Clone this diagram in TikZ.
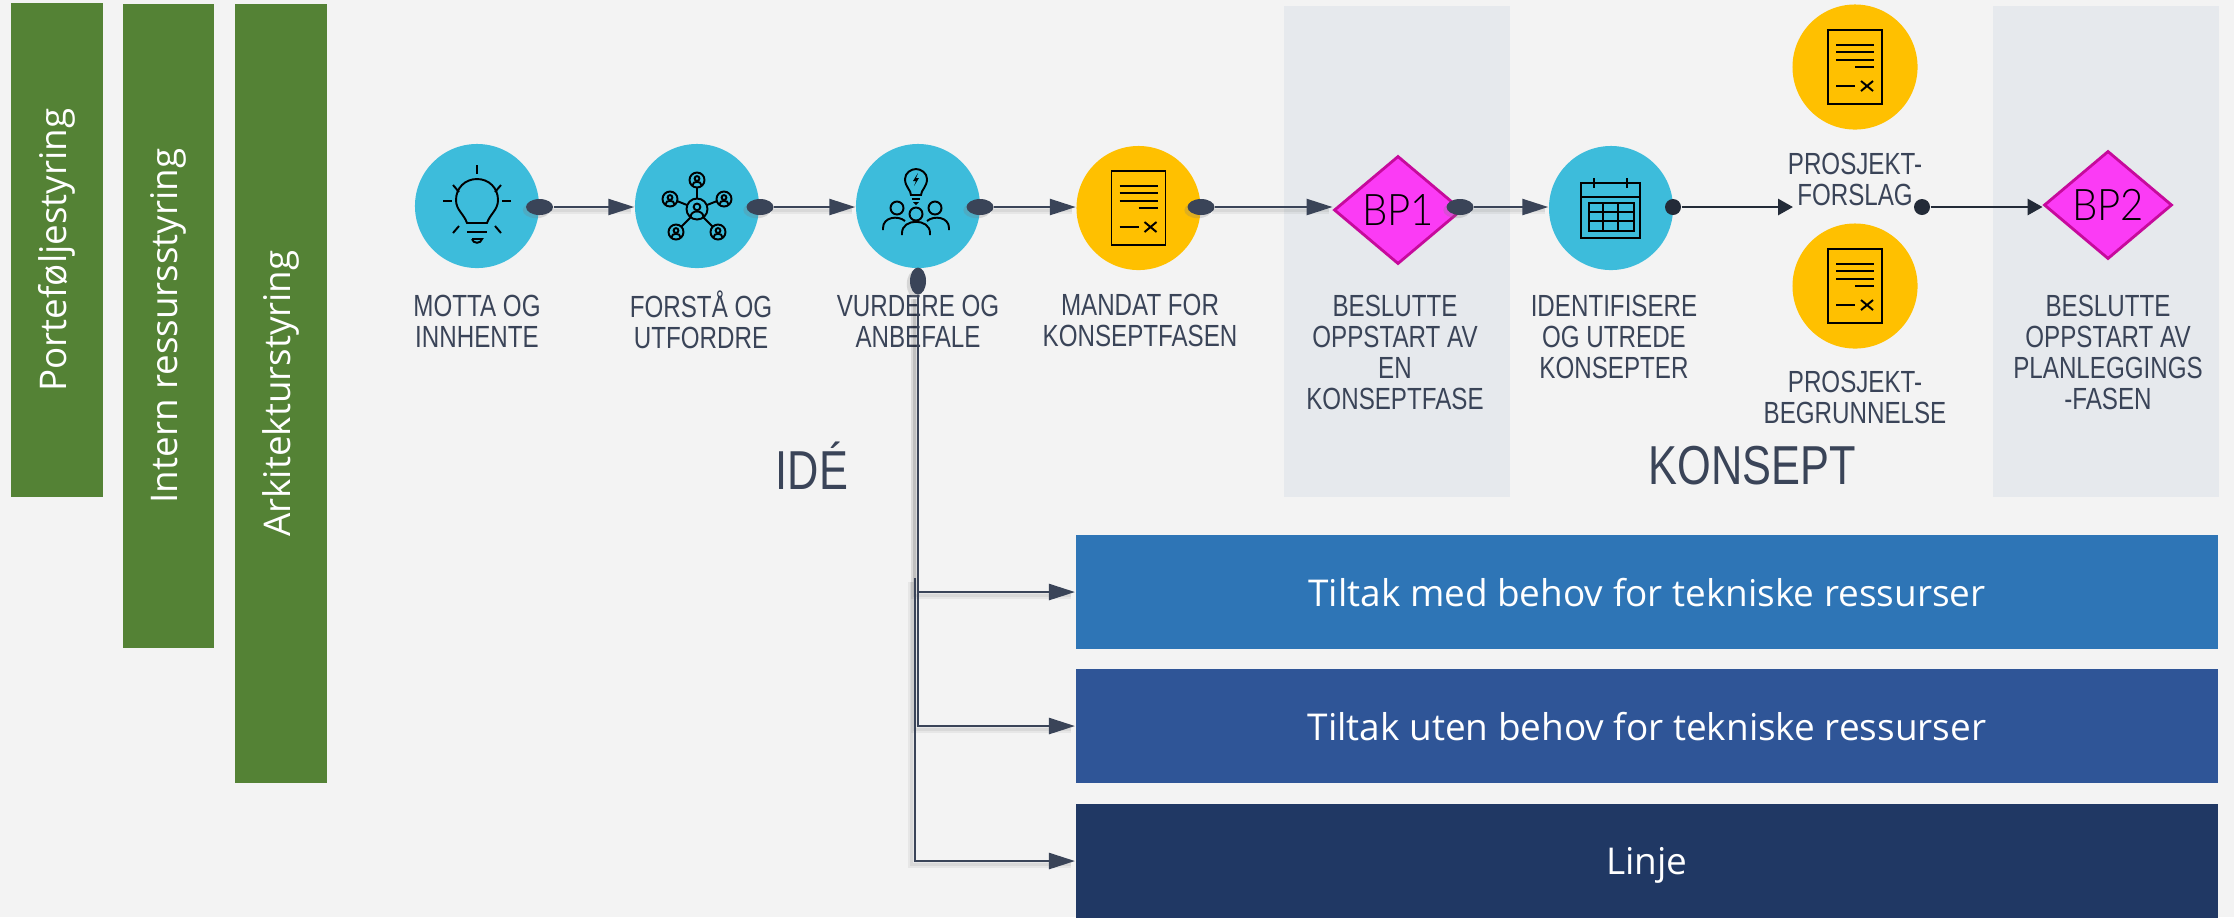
\documentclass[tikz,border=0pt]{standalone}
\usepackage{fontspec}
\usetikzlibrary{arrows.meta,shapes.geometric,shadows}

\newfontfamily\labelfont[FakeStretch=0.79]{Liberation Sans}
\newfontfamily\bpfont[FakeStretch=0.92]{Lato Light}
\newfontfamily\boxfont{Open Sans}

\definecolor{bakgrunn}{HTML}{F3F3F3}
\definecolor{stolpe}{HTML}{548235}
\definecolor{turkis}{HTML}{3DBCDB}
\definecolor{oransje}{HTML}{FFC000}
\definecolor{magenta}{HTML}{FB3BF5}
\definecolor{magentakant}{HTML}{C60A9C}
\definecolor{felt}{HTML}{E6E9ED}
\definecolor{tekniske}{HTML}{2E75B6}
\definecolor{utenbehov}{HTML}{2F5597}
\definecolor{linjeblaa}{HTML}{203864}
\definecolor{pil}{HTML}{3A4458}
\definecolor{pilmork}{HTML}{232B38}

\tikzset{
    stolpebox/.style={fill=stolpe, draw=none, inner sep=0pt, minimum height=0.91cm, text=white, rotate=90, font=\boxfont\fontsize{10.45}{12}\selectfont},
    feltbox/.style={fill=felt, draw=none, inner sep=0pt, minimum height=4.91cm},
    tiltakbox/.style={draw=none, inner sep=0pt, text depth=0pt, minimum width=11.42cm, minimum height=1.14cm, text=white, font=\boxfont\fontsize{10.5}{12}\selectfont},
    fasecircle/.style={circle, draw=none, inner sep=0pt, minimum size=1.24cm},
    bpdiamond/.style={diamond, fill=magenta, draw=magentakant, line width=0.8pt, inner sep=0pt, minimum width=1.28cm, minimum height=1.08cm, font=\bpfont\fontsize{12.4}{12}\selectfont},
    fasetekst/.style={inner sep=0pt, align=center, text=pil, font=\labelfont\fontsize{8.7}{8.82}\selectfont},
    stortekst/.style={inner sep=0pt, text=pil, font=\labelfont\fontsize{15.6}{16}\selectfont},
    prikk/.style={ellipse, fill=pil, draw=none, inner sep=0pt, minimum width=0.27cm, minimum height=0.16cm, drop shadow={shadow xshift=-0.9pt, shadow yshift=-0.9pt, opacity=0.25}},
    prikkliten/.style={circle, fill=pilmork, draw=none, inner sep=0pt, minimum size=0.16cm},
    pilstor/.style={draw=pil, line width=0.7pt, -{Triangle[length=0.26cm,width=0.16cm]}, preaction={draw=black, opacity=0.05, line width=2.2pt, -, transform canvas={shift={(-1pt,-1pt)}}}, preaction={draw=black, opacity=0.06, line width=1pt, -, transform canvas={shift={(-1pt,-1pt)}}}},
    pilliten/.style={draw=pilmork, line width=0.8pt, -{Triangle[length=0.15cm,width=0.16cm]}},
    ikon/.style={draw=black, line width=0.55pt},
    docicon/.pic={
        \draw[ikon] (-27,-37) rectangle (27,37);
        \draw[ikon] (-19,-22) -- (19,-22);
        \draw[ikon] (-19,-15) -- (19,-15);
        \draw[ikon] (-19,-7) -- (19,-7);
        \draw[ikon] (0,0) -- (19,0);
        \draw[ikon] (-19,19) -- (0,19);
        \draw[ikon] (6,14) -- (18,24);
        \draw[ikon] (6,24) -- (18,14);
    },
    bulbicon/.pic={
        \draw[ikon] (-10,17) .. controls (-13,8) and (-21,4) .. (-21,-6) .. controls (-21,-18) and (-12,-27) .. (0,-27) .. controls (12,-27) and (21,-18) .. (21,-6) .. controls (21,4) and (13,8) .. (10,17) -- cycle;
        \draw[ikon] (-10,26) -- (10,26);
        \draw[ikon] (-5,33) -- (5,33) .. controls (4,38) and (-4,38) .. (-5,33);
        \draw[ikon] (0,-41) -- (0,-32);
        \draw[ikon] (-34,-5) -- (-25,-5);
        \draw[ikon] (34,-5) -- (25,-5);
        \draw[ikon] (-24,-21) -- (-18,-14);
        \draw[ikon] (24,-21) -- (18,-14);
        \draw[ikon] (-24,27) -- (-18,20);
        \draw[ikon] (24,27) -- (18,20);
    },
    netperson/.pic={
        \draw[ikon] (0,0) circle (7.5);
        \draw[ikon] (0,-1.5) circle (2.4);
        \draw[ikon] (-4.5,5.5) .. controls (-4.5,0.5) and (4.5,0.5) .. (4.5,5.5);
    },
    neticon/.pic={
        \draw[ikon] (0,-7) -- (0,-18);
        \draw[ikon] (-10,-1) -- (-20,-5);
        \draw[ikon] (10,-1) -- (20,-5);
        \draw[ikon] (-6,11) -- (-16,21);
        \draw[ikon] (6,11) -- (16,21);
        \pic[scale=1.4] at (0,3) {netperson};
        \pic at (0,-26) {netperson};
        \pic at (-27,-7) {netperson};
        \pic at (27,-7) {netperson};
        \pic at (-21,26) {netperson};
        \pic at (21,26) {netperson};
    },
    peopleicon/.pic={
        \draw[ikon] (-7,-11) .. controls (-7,-16) and (-13,-19) .. (-13,-27) .. controls (-13,-33) and (-7,-37) .. (-2,-37) .. controls (3,-37) and (9,-33) .. (9,-27) .. controls (9,-19) and (3,-16) .. (3,-11) -- cycle;
        \draw[ikon] (-6,-7) -- (2,-7);
        \fill[black] (-5,-4) -- (1,-4) -- (-2,-1) -- cycle;
        \fill[black] (0,-33) -- (-5,-25) -- (-2,-25) -- (-4,-20) -- (1,-28) -- (-2,-28) -- cycle;
        \draw[ikon] (-2,8) circle (6.5);
        \draw[ikon] (-21,2) circle (6.5);
        \draw[ikon] (17,2) circle (6.5);
        \draw[ikon] (-16,29) -- (-16,27) .. controls (-16,12) and (12,12) .. (12,27) -- (12,29);
        \draw[ikon] (-35,24) -- (-35,22) .. controls (-35,11) and (-20,9) .. (-13,15);
        \draw[ikon] (31,24) -- (31,22) .. controls (31,11) and (16,9) .. (9,15);
    },
    calendaricon/.pic={
        \draw[ikon, line width=0.7pt] (-30,-25) rectangle (29,30);
        \draw[ikon, line width=0.7pt] (-30,-11) -- (29,-11);
        \draw[ikon] (-17,-30) -- (-17,-20);
        \draw[ikon] (16,-30) -- (16,-20);
        \draw[ikon, line width=0.7pt] (-22,-5) rectangle (23,23);
        \draw[ikon] (-8,-5) -- (-8,23);
        \draw[ikon] (7,-5) -- (7,23);
        \draw[ikon] (-22,4) -- (23,4);
        \draw[ikon] (-22,13) -- (23,13);
    }
}

\begin{document}
\begin{tikzpicture}[x=0.01cm, y=-0.01cm]
            \fill[bakgrunn] (0,0) rectangle (2234,917);
            \useasboundingbox (0,0) rectangle (2234,917);

            \node[stolpebox, minimum width=4.94cm] (portefolje) at (57,250) {Porteføljestyring};
            \node[stolpebox, minimum width=6.44cm] (intern) at (168.5,326) {Intern ressursstyring};
            \node[stolpebox, minimum width=7.79cm] (arkitektur) at (281,393.5) {Arkitekturstyring};

            \node[feltbox, minimum width=2.26cm] (felt1) at (1397,251.5) {};
            \node[feltbox, minimum width=2.26cm] (felt2) at (2106,251.5) {};

            \node[tiltakbox, fill=tekniske] (tiltak1) at (1647,592) {Tiltak med behov for tekniske ressurser};
            \node[tiltakbox, fill=utenbehov] (tiltak2) at (1647,726) {Tiltak uten behov for tekniske ressurser};
            \node[tiltakbox, fill=linjeblaa] (linje) at (1647,861) {Linje};

            \node[fasecircle, fill=turkis] (motta) at (477,206) {};
            \node[fasecircle, fill=turkis] (forsta) at (697,206) {};
            \node[fasecircle, fill=turkis] (vurdere) at (918,206) {};
            \node[fasecircle, fill=oransje] (mandat) at (1138.5,208) {};
            \node[bpdiamond] (bp1) at (1398,210) {BP1};
            \node[fasecircle, fill=turkis] (identifisere) at (1611,208) {};
            \node[fasecircle, fill=oransje, minimum size=1.25cm] (forslag) at (1855,67) {};
            \node[fasecircle, fill=oransje, minimum size=1.25cm] (begrunnelse) at (1855,286) {};
            \node[bpdiamond] (bp2) at (2108,205) {BP2};

            \pic at (motta) {bulbicon};
            \pic at (forsta) {neticon};
            \pic at (vurdere) {peopleicon};
            \pic at (mandat) {docicon};
            \pic at (identifisere) {calendaricon};
            \pic at (forslag) {docicon};
            \pic at (begrunnelse) {docicon};

            \node[fasetekst] (tmotta) at (477,321) {MOTTA OG\\INNHENTE};
            \node[fasetekst] (tforsta) at (701,319.5) {FORSTÅ OG\\UTFORDRE};
            \node[fasetekst] (tvurdere) at (918,321) {VURDERE OG\\ANBEFALE};
            \node[fasetekst] (tmandat) at (1140,320) {MANDAT FOR\\KONSEPTFASEN};
            \node[fasetekst] (tbp1) at (1395,352) {BESLUTTE\\OPPSTART AV\\EN\\KONSEPTFASE};
            \node[fasetekst] (tidentifisere) at (1614,337) {IDENTIFISERE\\OG UTREDE\\KONSEPTER};
            \node[fasetekst] (tforslag) at (1855,179) {PROSJEKT-\\FORSLAG};
            \node[fasetekst] (tbegrunnelse) at (1855,397) {PROSJEKT-\\BEGRUNNELSE};
            \node[fasetekst] (tbp2) at (2108,352) {BESLUTTE\\OPPSTART AV\\PLANLEGGINGS\\-FASEN};
            \node[stortekst] (ide) at (812,466) {IDÉ};
            \node[stortekst] (konsept) at (1752,466) {KONSEPT};

            \node[prikk] (prikk1) at (539.5,207) {};
            \node[prikk] (prikk2) at (760,207) {};
            \node[prikk] (prikk3) at (980,207) {};
            \node[prikk] (prikk4) at (1201,207) {};
            \node[prikk] (prikk5) at (1460,207) {};
            \node[prikk, minimum width=0.16cm, minimum height=0.27cm] (prikkned) at (918,281) {};
            \node[prikkliten] (prikk6) at (1673,207) {};
            \node[prikkliten] (prikk7) at (1922,207) {};

            \coordinate (forslaginn) at (1793,207);
            \coordinate (delt) at (915,578);

            \draw[pilstor] (prikk1) -- (forsta.west |- prikk1);
            \draw[pilstor] (prikk2) -- (vurdere.west |- prikk2);
            \draw[pilstor] (prikk3) -- (mandat.west |- prikk3);
            \draw[pilstor] (prikk4) -- (bp1.west |- prikk4);
            \draw[pilstor] (prikk5) -- (identifisere.west |- prikk5);
            \draw[pilliten] (prikk6) -- (forslaginn);
            \draw[pilliten] (prikk7) -- (bp2.west |- prikk7);
            \draw[pilstor] (prikkned) |- (tiltak1);
            \draw[pilstor] (prikkned) |- (tiltak2);
            \draw[pilstor] (delt) |- (linje);
        \end{tikzpicture}
\end{document}
